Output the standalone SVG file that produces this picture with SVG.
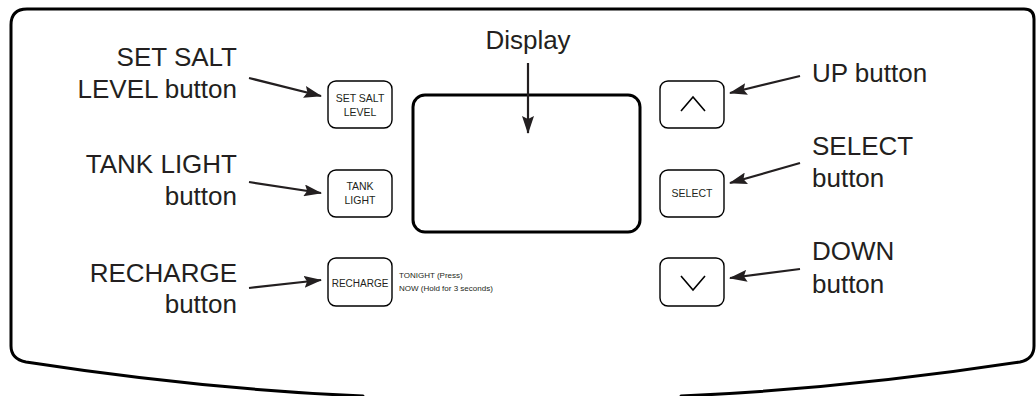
<svg xmlns="http://www.w3.org/2000/svg" width="1036" height="396" viewBox="0 0 1036 396">
<style>
.panel{fill:#fff;stroke:#000;stroke-width:3;stroke-linejoin:round}
.display{fill:#fff;stroke:#000;stroke-width:3}
.btn{fill:#fff;stroke:#000;stroke-width:1.4}
.lbl{font-family:"Liberation Sans",Arial,sans-serif;font-size:26px;fill:#231f20}
.btxt{font-family:"Liberation Sans",Arial,sans-serif;font-size:10.5px;fill:#231f20;text-anchor:middle}
.note{font-family:"Liberation Sans",Arial,sans-serif;font-size:8px;fill:#231f20}
.chev{fill:none;stroke:#000;stroke-width:1.6}
.arr{stroke:#231f20;stroke-width:2.2;fill:none;marker-end:url(#ah)}
</style>
<defs>
<marker id="ah" viewBox="0 0 18 12" refX="17" refY="6" markerWidth="18" markerHeight="12" markerUnits="userSpaceOnUse" orient="auto">
<path d="M0,0 L18,6 L0,12 L3,6 Z" fill="#231f20"/>
</marker>
</defs>
<path class="panel" d="M11,25 Q11,9 27,9 L1024,9 Q1034,9 1034,19 L1034,346 Q1034,359 1020,362 Q843,389 681,396 L681,404 L363,404 L363,396 Q201,389 26,362 Q11,359 11,346 Z"/>
<g id="display"><rect class="display" x="413" y="95" width="227" height="137" rx="12"/></g>
<g id="set-salt-level">
<rect class="btn" x="328" y="81" width="64" height="47" rx="8"/>
<text class="btxt" x="360" y="102">SET SALT</text>
<text class="btxt" x="360" y="116">LEVEL</text>
</g>
<g id="tank-light">
<rect class="btn" x="328" y="170" width="64" height="47" rx="8"/>
<text class="btxt" x="360" y="190">TANK</text>
<text class="btxt" x="360" y="204">LIGHT</text>
</g>
<g id="recharge">
<rect class="btn" x="328" y="258" width="64" height="48" rx="8"/>
<text class="btxt" x="360" y="287" style="font-size:10px">RECHARGE</text>
<text class="note" x="399" y="278">TONIGHT (Press)</text>
<text class="note" x="399" y="291">NOW (Hold for 3 seconds)</text>
</g>
<g id="up">
<rect class="btn" x="660" y="81" width="64" height="47" rx="8"/>
<polyline class="chev" points="681,111 693,97 705,111"/>
</g>
<g id="select">
<rect class="btn" x="660" y="170" width="64" height="47" rx="8"/>
<text class="btxt" x="692" y="197">SELECT</text>
</g>
<g id="down">
<rect class="btn" x="660" y="258" width="64" height="48" rx="8"/>
<polyline class="chev" points="681,276 693,290 705,276"/>
</g>
<g id="labels">
<text class="lbl" x="528" y="49" text-anchor="middle">Display</text>
<text class="lbl" x="237" y="66" text-anchor="end">SET SALT</text>
<text class="lbl" x="237" y="98" text-anchor="end">LEVEL button</text>
<text class="lbl" x="237" y="173" text-anchor="end">TANK LIGHT</text>
<text class="lbl" x="237" y="205" text-anchor="end">button</text>
<text class="lbl" x="237" y="282" text-anchor="end">RECHARGE</text>
<text class="lbl" x="237" y="313" text-anchor="end">button</text>
<text class="lbl" x="812" y="82">UP button</text>
<text class="lbl" x="812" y="155">SELECT</text>
<text class="lbl" x="812" y="187">button</text>
<text class="lbl" x="812" y="260">DOWN</text>
<text class="lbl" x="812" y="293">button</text>
</g>
<g id="connectors">
<line class="arr" x1="528" y1="63" x2="528" y2="133"/>
<line class="arr" x1="249" y1="78" x2="321" y2="96"/>
<line class="arr" x1="249" y1="182" x2="321" y2="193"/>
<line class="arr" x1="249" y1="288" x2="321" y2="280"/>
<line class="arr" x1="800" y1="76" x2="730" y2="93"/>
<line class="arr" x1="800" y1="163" x2="730" y2="183"/>
<line class="arr" x1="800" y1="269" x2="730" y2="278"/>
</g>
</svg>
